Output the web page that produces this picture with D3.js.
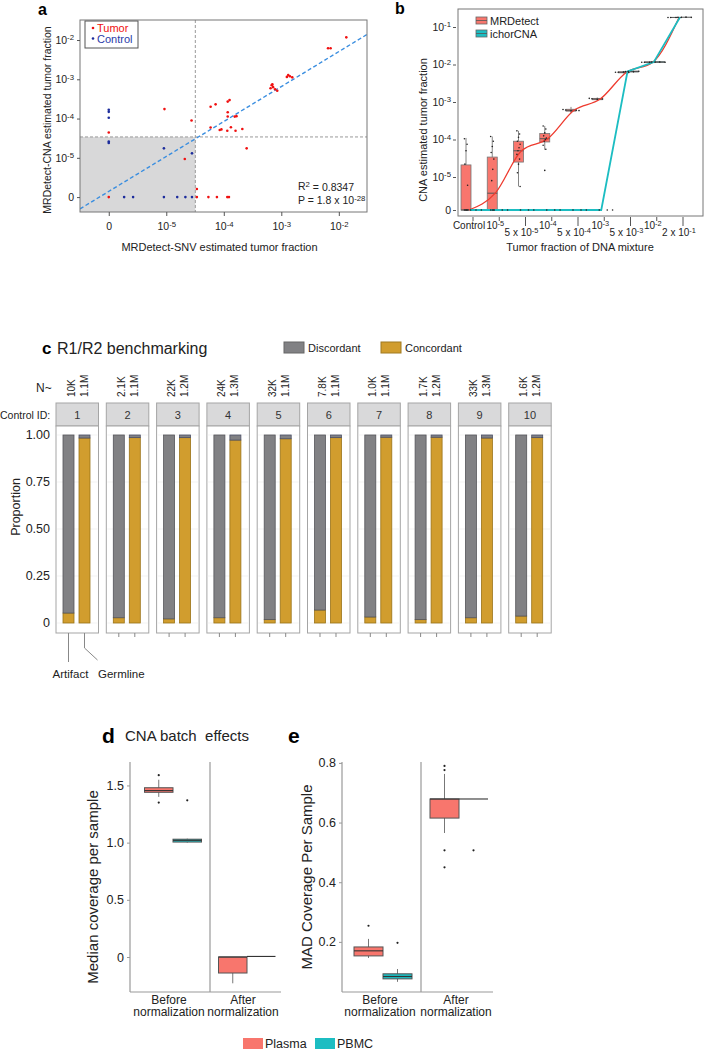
<!DOCTYPE html>
<html><head><meta charset="utf-8">
<script src="https://cdn.jsdelivr.net/npm/d3@7"></script>
<style>body{margin:0;background:#fff}svg{display:block}</style>
</head><body>
<svg id="chart" width="705" height="1050"></svg>
<script>
// ================= DATA =================
// Panel a: MRDetect-SNV vs MRDetect-CNA tumor fraction (0 = not detected)
const tumorSNV = [0.0135,0.0065,0.0072,0.00132,0.00141,0.00155,0.00125,0.00068,0.00072,0.00065,0.00078,0.00085,0.0007,
  9.3e-6,2.75e-5,5.9e-5,7.2e-5,1.17e-4,1.26e-4,1.17e-4,1.17e-4,1.55e-4,1.66e-4,5.9e-5,8.5e-5,9.1e-5,1.15e-4,1.33e-4,1.6e-4,2.1e-4,2.5e-4,2.1e-5,
  0,0,3.4e-5,3.4e-5,5.4e-5,7.6e-5,1.15e-4,1.23e-4];
const tumorCNA = [0.0117,0.0062,0.0062,0.00129,0.0012,0.00112,0.00115,0.00071,0.00063,0.00059,0.00056,0.00051,0.00074,
  1.74e-4,8.9e-5,2.0e-4,2.3e-4,2.7e-4,2.95e-4,1.45e-4,1.13e-4,1.12e-4,1.15e-4,5.9e-5,5.1e-5,5.3e-5,4.9e-5,6.0e-5,4.9e-5,5.4e-5,1.74e-5,9.3e-6,
  4.4e-5,0,1.6e-6,0,0,0,0,0];
const controlSNV = [0,0,0,0,0,9.1e-6,2.8e-5,1.85e-6,2.65e-6,9.1e-6,1.55e-5,2.15e-5,2.8e-5];
const controlCNA = [1.67e-4,1.48e-4,1.05e-4,2.6e-5,2.4e-5,1.74e-5,1.3e-5,0,0,0,0,0,0];
const aThreshSNV = 3.2e-5, aThreshCNA = 3.4e-5;
const aFitSlope = 0.89, aFitIntercept = -0.515;   // log10 space
const aTicks = [0,1e-5,1e-4,1e-3,1e-2];

// Panel b: CNA estimated tumor fraction vs dilution
const bCategories = ["Control","1e-5","5e-5","1e-4","5e-4","1e-3","5e-3","1e-2","2e-1"];
const bTickBase = ["Control","10","5 x 10","10","5 x 10","10","5 x 10","10","2 x 10"];
const bTickExp  = [null,"-5","-5","-4","-4","-3","-3","-2","-1"];
const bTickLower = [false,false,true,false,true,false,true,false,true];
const bYTicks = [0,1e-5,1e-4,1e-3,1e-2,1e-1];
// [lo, q1, median, q3, hi]
const bMrdStats = [
  [0,0,0,2.1e-5,1.1e-4],
  [0,0,3.7e-6,3.4e-5,1.2e-4],
  [5.6e-6,2.5e-5,5e-5,9e-5,1.7e-4],
  [5.3e-5,8.6e-5,1.05e-4,1.45e-4,2.3e-4],
  [5.0e-4,5.7e-4,6.0e-4,6.4e-4,7.4e-4],
  [1.08e-3,1.15e-3,1.2e-3,1.25e-3,1.32e-3],
  [5.8e-3,6.0e-3,6.2e-3,6.4e-3,6.6e-3],
  [1.08e-2,1.12e-2,1.15e-2,1.18e-2,1.22e-2],
  [0.175,0.178,0.18,0.182,0.185]
];
const bIchorStats = [
  [0,0,0,0,0],[0,0,0,0,0],[0,0,0,0,0],[0,0,0,0,0],[0,0,0,0,0],[0,0,0,0,0],
  [6.1e-3,6.3e-3,6.5e-3,6.7e-3,6.9e-3],
  [1.1e-2,1.13e-2,1.16e-2,1.19e-2,1.22e-2],
  [0.178,0.18,0.182,0.184,0.186]
];
const bMrdPoints = [
  [1.05e-4,7.5e-5,5e-5,2.2e-5,6e-6,0,0,0,0],
  [1.2e-4,9e-5,6.5e-5,4.5e-5,3e-5,1.6e-5,8e-6,0,0,0],
  [1.7e-4,1.4e-4,1.15e-4,9e-5,7.5e-5,6e-5,5e-5,4e-5,3e-5,2.2e-5,1.3e-5,5.6e-6],
  [2.3e-4,1.9e-4,1.5e-4,1.25e-4,1.1e-4,1.0e-4,9e-5,7e-5,5.5e-5,1.5e-5],
  [6.3e-4,6.0e-4,5.8e-4,6.1e-4,5.9e-4],
  [1.25e-3,1.2e-3,1.18e-3,1.22e-3],
  [6.2e-3,6.1e-3,6.3e-3,6.2e-3],
  [1.15e-2,1.16e-2,1.14e-2,1.15e-2],
  [0.18,0.181,0.179,0.18]
];
const bIchorPoints = [[0,0,0,0],[0,0,0],[0,0,0],[0,0,0],[0,0,0],[0,0,0],
  [6.5e-3,6.6e-3,6.4e-3,6.5e-3],[1.16e-2,1.15e-2,1.17e-2],[0.182,0.181,0.183]];

// Panel c: R1/R2 benchmarking
const cControlIDs = ["1","2","3","4","5","6","7","8","9","10"];
const cNArtifact = ["10K","2.1K","22K","24K","32K","7.8K","1.0K","1.7K","33K","1.6K"];
const cNGermline = ["1.1M","1.1M","1.2M","1.3M","1.1M","1.1M","1.1M","1.2M","1.3M","1.2M"];
const cArtifactConcordant = [0.053,0.028,0.022,0.028,0.018,0.069,0.032,0.018,0.028,0.037];
const cGermlineDiscordant = [0.016,0.014,0.014,0.027,0.02,0.014,0.012,0.012,0.016,0.014];
const cYTicks = [0,0.25,0.5,0.75,1];
const cYLabels = ["0","0.25","0.50","0.75","1.00"];

// Panel d / e: CNA batch effects
const deGroups = ["Before normalization","After normalization"];
const dPlasmaStats = [[1.40,1.44,1.455,1.48,1.55],[-0.23,-0.14,0,0,0]];
const dPBMCStats   = [[1.0,1.005,1.02,1.03,1.035],[0.005,0.005,0.005,0.005,0.005]];
const dPlasmaOut = [[1.59,1.35],[]];
const dPBMCOut   = [[1.37],[]];
const dYTicks = [0,0.5,1.0,1.5];
const ePlasmaStats = [[0.146,0.153,0.17,0.183,0.21],[0.565,0.615,0.679,0.679,0.763]];
const ePBMCStats   = [[0.066,0.076,0.084,0.093,0.109],[0.679,0.679,0.679,0.679,0.679]];
const ePlasmaOut = [[0.254],[0.79,0.776,0.507,0.45]];
const ePBMCOut   = [[0.197],[0.507]];
const eYTicks = [0.2,0.4,0.6,0.8];

// ================= DRAWING =================
const FONT = '"Liberation Sans", Arial, Helvetica, sans-serif';
const svg = d3.select("#chart").attr("font-family", FONT);
const RED = "#F8766D", TEAL = "#1CBDC2", GOLD = "#D19D2E", GREY = "#818184";

function setSup(sel, base, exp) {
  sel.text(null);
  sel.append("tspan").text(base);
  if (exp !== null && exp !== undefined)
    sel.append("tspan").attr("dy", "-0.45em").attr("font-size", "0.74em").text(exp);
}
const expOf = v => v > 0 ? String(Math.round(Math.log10(v))) : null;
function styleAxis(g, fs) {
  g.attr("font-family", FONT);
  g.select(".domain").remove();
  g.selectAll(".tick line").attr("stroke", "#555");
  g.selectAll(".tick text").attr("font-size", fs).attr("fill", "#222");
}

// ---------- Panel a ----------
(function(){
  const A = {l:80, r:367, t:20, b:212};
  const tA = v => v > 0 ? Math.log10(v) : -6;
  const xA = d3.scaleLinear().domain([-6.5, -1.51]).range([A.l, A.r]);
  const yA = d3.scaleLinear().domain([-6.38, -1.49]).range([A.b, A.t]);
  const g = svg.append("g");
  g.append("defs").append("clipPath").attr("id","clipA").append("rect")
    .attr("x",A.l).attr("y",A.t).attr("width",A.r-A.l).attr("height",A.b-A.t);
  const thx = xA(tA(aThreshSNV)), thy = yA(tA(aThreshCNA));
  g.append("rect").attr("x",A.l).attr("y",thy).attr("width",thx-A.l).attr("height",A.b-thy).attr("fill","#d8d8d9");
  g.append("line").attr("x1",thx).attr("x2",thx).attr("y1",A.t).attr("y2",A.b).attr("stroke","#9a9a9a").attr("stroke-dasharray","3,2");
  g.append("line").attr("x1",A.l).attr("x2",A.r).attr("y1",thy).attr("y2",thy).attr("stroke","#9a9a9a").attr("stroke-dasharray","3,2");
  const xd = xA.domain();
  g.append("line").attr("clip-path","url(#clipA)")
    .attr("x1",xA(xd[0])).attr("y1",yA(aFitIntercept+aFitSlope*xd[0]))
    .attr("x2",xA(xd[1])).attr("y2",yA(aFitIntercept+aFitSlope*xd[1]))
    .attr("stroke","#3a8ee0").attr("stroke-width",1.4).attr("stroke-dasharray","4,2.5");
  g.selectAll(".tp").data(tumorSNV).enter().append("circle")
    .attr("cx",(d)=>xA(tA(d))).attr("cy",(d,i)=>yA(tA(tumorCNA[i]))).attr("r",1.3).attr("fill","#f01010");
  g.selectAll(".cp").data(controlSNV).enter().append("circle")
    .attr("cx",(d)=>xA(tA(d))).attr("cy",(d,i)=>yA(tA(controlCNA[i]))).attr("r",1.3).attr("fill","#1c2c9c");
  g.append("rect").attr("x",A.l).attr("y",A.t).attr("width",A.r-A.l).attr("height",A.b-A.t)
    .attr("fill","none").attr("stroke","#777");
  const gx = g.append("g").attr("transform",`translate(0,${A.b})`)
    .call(d3.axisBottom(xA).tickValues(aTicks.map(tA)).tickSize(4).tickPadding(7));
  styleAxis(gx, 10.5);
  gx.selectAll(".tick text").each(function(d,i){ setSup(d3.select(this), aTicks[i]===0?"0":"10", expOf(aTicks[i])); });
  const gy = g.append("g").attr("transform",`translate(${A.l},0)`)
    .call(d3.axisLeft(yA).tickValues(aTicks.map(tA)).tickSize(3).tickPadding(3));
  styleAxis(gy, 10.5);
  gy.selectAll(".tick text").each(function(d,i){ setSup(d3.select(this), aTicks[i]===0?"0":"10", expOf(aTicks[i])); });
  // legend
  g.append("rect").attr("x",85).attr("y",21).attr("width",53).attr("height",27).attr("fill","#fff").attr("stroke","#555");
  g.append("circle").attr("cx",93).attr("cy",28).attr("r",1.3).attr("fill","#f01010");
  g.append("circle").attr("cx",93).attr("cy",38.5).attr("r",1.3).attr("fill","#1c2c9c");
  g.append("text").attr("x",97).attr("y",32).attr("font-size",11).attr("fill","#f01010").text("Tumor");
  g.append("text").attr("x",97).attr("y",42.5).attr("font-size",11).attr("fill","#2a3aa8").text("Control");
  // stats
  const r2 = g.append("text").attr("x",298).attr("y",190).attr("font-size",10.5).attr("fill","#222");
  r2.append("tspan").text("R");
  r2.append("tspan").attr("dy","-0.45em").attr("font-size","0.74em").text("2");
  r2.append("tspan").attr("dy","0.45em").text(" = 0.8347");
  const pv = g.append("text").attr("x",298).attr("y",204).attr("font-size",10.5).attr("fill","#222");
  setSup(pv, "P = 1.8 x 10", "-28");
  g.append("text").attr("x",(A.l+A.r)/2 - 4).attr("y",251).attr("text-anchor","middle").attr("font-size",11).attr("fill","#222")
    .text("MRDetect-SNV estimated tumor fraction");
  g.append("text").attr("transform",`translate(51,120) rotate(-90)`).attr("text-anchor","middle")
    .attr("font-size",10.5).attr("fill","#222").text("MRDetect-CNA estimated tumor fraction");
  g.append("text").attr("x",38).attr("y",15).attr("font-size",16).attr("font-weight","bold").text("a");
})();

// ---------- Panel b ----------
(function(){
  const B = {l:458, r:703, t:9, b:216};
  const tB = v => v > 0 ? Math.log10(v) : -5.88;
  const xB = d3.scalePoint().domain(bCategories).range([473, 683]);
  const yB = d3.scaleLinear().domain([-6.04, -0.52]).range([B.b, B.t]);
  const g = svg.append("g");
  const bw = 10, offM = -7, offI = 3, offL = -4;
  function box(cx, s, fill) {
    const [lo,q1,md,q3,hi] = s.map(tB);
    g.append("line").attr("x1",cx).attr("x2",cx).attr("y1",yB(hi)).attr("y2",yB(lo)).attr("stroke","#666").attr("stroke-width",0.8);
    if (yB(q1)-yB(q3) > 0.5)
      g.append("rect").attr("x",cx-bw/2).attr("y",yB(q3)).attr("width",bw).attr("height",yB(q1)-yB(q3))
        .attr("fill",fill).attr("stroke","#777").attr("stroke-width",0.8);
    g.append("line").attr("x1",cx-bw/2).attr("x2",cx+bw/2).attr("y1",yB(md)).attr("y2",yB(md)).attr("stroke","#555").attr("stroke-width",1);
  }
  bCategories.forEach((c,i)=>{ box(xB(c)+offM, bMrdStats[i], RED); });
  bCategories.forEach((c,i)=>{ if (bIchorStats[i][4] > 0) box(xB(c)+offI, bIchorStats[i], TEAL); });
  const line = d3.line().x(d=>d[0]).y(d=>yB(tB(d[1])));
  g.append("path").attr("d", line.curve(d3.curveMonotoneX)(bCategories.map((c,i)=>[xB(c)+offL, bMrdStats[i][2]])))
    .attr("fill","none").attr("stroke","#EE3A2E").attr("stroke-width",1.3);
  g.append("path").attr("d", d3.line().x(d=>d[0]).y(d=>yB(tB(d[1])))(bCategories.map((c,i)=>[xB(c)+offL+1, bIchorStats[i][2]])))
    .attr("fill","none").attr("stroke",TEAL).attr("stroke-width",1.8);
  // jittered points
  function pts(arr, off, wideFrom) {
    arr.forEach((vals,i)=>{
      const spread = i >= wideFrom ? 8 : 1.6;
      vals.forEach((v,j)=>{
        const dx = spread * ((((j*5)%7)/3) - 1);
        g.append("circle").attr("cx", xB(bCategories[i])+off+dx).attr("cy", yB(tB(v))).attr("r",0.8).attr("fill","#222");
      });
    });
  }
  pts(bMrdPoints, offM, 4);
  pts(bIchorPoints, offI, 0);
  g.append("rect").attr("x",B.l).attr("y",B.t).attr("width",B.r-B.l).attr("height",B.b-B.t).attr("fill","none").attr("stroke","#777");
  const gy = g.append("g").attr("transform",`translate(${B.l-2},0)`)
    .call(d3.axisLeft(yB).tickValues(bYTicks.map(tB)).tickSize(3).tickPadding(2));
  styleAxis(gy, 10.5);
  gy.selectAll(".tick text").each(function(d,i){ setSup(d3.select(this), bYTicks[i]===0?"0":"10", expOf(bYTicks[i])); });
  bCategories.forEach((c,i)=>{
    const x = xB(c), low = bTickLower[i];
    g.append("line").attr("x1",x).attr("x2",x).attr("y1",B.b+1).attr("y2",B.b+(low? 10:5)).attr("stroke","#555");
    const t = g.append("text").attr("x",x-4).attr("y", low ? 236 : 229).attr("text-anchor","middle").attr("font-size",10).attr("fill","#222");
    setSup(t, bTickBase[i], bTickExp[i]);
  });
  // legend
  [["MRDetect",RED,21],["ichorCNA",TEAL,34]].forEach(([lab,col,y])=>{
    g.append("rect").attr("x",476).attr("y",y-4).attr("width",11).attr("height",7).attr("fill",col).attr("stroke","#666").attr("stroke-width",0.8);
    g.append("line").attr("x1",476).attr("x2",487).attr("y1",y-0.5).attr("y2",y-0.5).attr("stroke","#555").attr("stroke-width",0.8);
    g.append("text").attr("x",490).attr("y",y+3.5).attr("font-size",11).attr("fill","#222").text(lab);
  });
  g.append("text").attr("x",580).attr("y",251).attr("text-anchor","middle").attr("font-size",11).attr("fill","#222").text("Tumor fraction of DNA mixture");
  g.append("text").attr("transform",`translate(427,130) rotate(-90)`).attr("text-anchor","middle")
    .attr("font-size",11).attr("fill","#222").text("CNA estimated tumor fraction");
  g.append("text").attr("x",395).attr("y",14).attr("font-size",16).attr("font-weight","bold").text("b");
})();

// ---------- Panel c ----------
(function(){
  const g = svg.append("g");
  const xP = d3.scaleBand().domain(cControlIDs).range([56, 551.2]).paddingInner(0.155);
  const xI = d3.scaleBand().domain(["Artifact","Germline"]).range([7, 34]).paddingInner(0.3125);
  const yC = d3.scaleLinear().domain([0,1]).range([623,435]);
  const stripT = 403, stripB = 426, bodyB = 633;
  g.append("text").attr("x",42).attr("y",354).attr("font-size",17).attr("font-weight","bold").text("c");
  g.append("text").attr("x",57).attr("y",354).attr("font-size",16).attr("fill","#222").text("R1/R2 benchmarking");
  g.append("rect").attr("x",284).attr("y",342).attr("width",20).attr("height",11).attr("fill",GREY).attr("stroke","#666");
  g.append("text").attr("x",308).attr("y",352).attr("font-size",11).attr("fill","#222").text("Discordant");
  g.append("rect").attr("x",381).attr("y",342).attr("width",20).attr("height",11).attr("fill",GOLD).attr("stroke","#a07a20");
  g.append("text").attr("x",405).attr("y",352).attr("font-size",11).attr("fill","#222").text("Concordant");
  g.append("text").attr("x",36).attr("y",392).attr("font-size",12).attr("fill","#222").text("N~");
  g.append("text").attr("x",0).attr("y",419).attr("font-size",10.5).attr("fill","#222").text("Control ID:");
  cYTicks.forEach((v,i)=>{
    g.append("text").attr("x",50).attr("y",yC(v)+4.3).attr("text-anchor","end").attr("font-size",12.5).attr("fill","#222").text(cYLabels[i]);
  });
  g.append("text").attr("transform",`translate(20,507) rotate(-90)`).attr("text-anchor","middle").attr("font-size",12.5).attr("fill","#222").text("Proportion");
  cControlIDs.forEach((id,i)=>{
    const px = xP(id), w = xP.bandwidth();
    g.append("rect").attr("x",px).attr("y",stripT).attr("width",w).attr("height",stripB-stripT).attr("fill","#d9d9da").attr("stroke","#a5a5a5");
    g.append("text").attr("x",px+w/2).attr("y",419).attr("text-anchor","middle").attr("font-size",11).attr("fill","#333").text(id);
    g.append("rect").attr("x",px).attr("y",stripB).attr("width",w).attr("height",bodyB-stripB).attr("fill","#fff").attr("stroke","#a5a5a5");
    cYTicks.forEach(v=>{ g.append("line").attr("x1",px+1).attr("x2",px+w-1).attr("y1",yC(v)).attr("y2",yC(v)).attr("stroke","#f3f3f3"); });
    const segs = {
      Artifact: [[0,cArtifactConcordant[i],GOLD,"#9a7318"],[cArtifactConcordant[i],1,GREY,"#55555a"]],
      Germline: [[0,1-cGermlineDiscordant[i],GOLD,"#9a7318"],[1-cGermlineDiscordant[i],1,GREY,"#4a4f66"]]
    };
    ["Artifact","Germline"].forEach(k=>{
      const bx = px + xI(k), bwd = xI.bandwidth();
      segs[k].forEach(([a,b,f,s])=>{
        g.append("rect").attr("x",bx).attr("y",yC(b)).attr("width",bwd).attr("height",yC(a)-yC(b)).attr("fill",f).attr("stroke",s).attr("stroke-width",0.8);
      });
      g.append("line").attr("x1",bx+bwd/2).attr("x2",bx+bwd/2).attr("y1",bodyB).attr("y2",bodyB+4).attr("stroke","#888");
    });
    g.append("text").attr("transform",`translate(${px+18.5},397) rotate(-90)`).attr("font-size",10).attr("fill","#222").text(cNArtifact[i]);
    g.append("text").attr("transform",`translate(${px+31.5},397) rotate(-90)`).attr("font-size",10).attr("fill","#222").text(cNGermline[i]);
  });
  const p0 = xP(cControlIDs[0]);
  const ax = p0 + xI("Artifact") + xI.bandwidth()/2, gx = p0 + xI("Germline") + xI.bandwidth()/2;
  g.append("line").attr("x1",ax).attr("x2",ax).attr("y1",bodyB+4).attr("y2",662).attr("stroke","#888");
  g.append("path").attr("d",`M${gx},${bodyB+4}L${gx},648L${gx+13},660`).attr("fill","none").attr("stroke","#888");
  g.append("text").attr("x",ax+2).attr("y",678).attr("text-anchor","middle").attr("font-size",11.5).attr("fill","#222").text("Artifact");
  g.append("text").attr("x",98).attr("y",678).attr("font-size",11.5).attr("fill","#222").text("Germline");
})();

// ---------- Panels d and e ----------
function panelDE(cfg) {
  const g = svg.append("g");
  const y = d3.scaleLinear().domain(cfg.domain).range([992, 762]);
  const x = d3.scalePoint().domain(deGroups).range(cfg.centers);
  const bw = cfg.bw;
  function box(cx, s, fill, outs) {
    const [lo,q1,md,q3,hi] = s;
    g.append("line").attr("x1",cx).attr("x2",cx).attr("y1",y(hi)).attr("y2",y(lo)).attr("stroke","#777");
    if (y(q1)-y(q3) > 0.5)
      g.append("rect").attr("x",cx-bw/2).attr("y",y(q3)).attr("width",bw).attr("height",y(q1)-y(q3)).attr("fill",fill).attr("stroke","#555");
    g.append("line").attr("x1",cx-bw/2).attr("x2",cx+bw/2).attr("y1",y(md)).attr("y2",y(md)).attr("stroke","#333").attr("stroke-width",1.1);
    outs.forEach(v=>g.append("circle").attr("cx",cx).attr("cy",y(v)).attr("r",1.1).attr("fill","#222"));
  }
  deGroups.forEach((grp,i)=>{
    box(x(grp)-bw/2, cfg.plasma[i], RED, cfg.plasmaOut[i]);
    box(x(grp)+bw/2, cfg.pbmc[i], TEAL, cfg.pbmcOut[i]);
  });
  const mid = (x(deGroups[0])+x(deGroups[1]))/2;
  g.append("line").attr("x1",mid).attr("x2",mid).attr("y1",762).attr("y2",992).attr("stroke","#999").attr("stroke-width",1.2);
  g.append("line").attr("x1",cfg.axisX).attr("x2",cfg.axisX).attr("y1",762).attr("y2",992).attr("stroke","#999").attr("stroke-width",1.2);
  g.append("line").attr("x1",cfg.axisX).attr("x2",cfg.xEnd).attr("y1",992).attr("y2",992).attr("stroke","#999").attr("stroke-width",1.2);
  const gy = g.append("g").attr("transform",`translate(${cfg.axisX},0)`)
    .call(d3.axisLeft(y).tickValues(cfg.ticks).tickSize(3).tickPadding(3).tickFormat(v=> v===0 ? "0" : d3.format(".1f")(v)));
  styleAxis(gy, 12.5);
  gy.selectAll(".tick line").attr("stroke","#999");
  deGroups.forEach(grp=>{
    const parts = grp.split(" ");
    g.append("text").attr("x",x(grp)+cfg.labOff).attr("y",1004).attr("text-anchor","middle").attr("font-size",12).attr("fill","#222").text(parts[0]);
    g.append("text").attr("x",x(grp)+cfg.labOff).attr("y",1016).attr("text-anchor","middle").attr("font-size",12).attr("fill","#222").text(parts[1]);
  });
  g.append("text").attr("transform",`translate(${cfg.titleX},${cfg.titleY}) rotate(-90)`).attr("text-anchor","middle")
    .attr("font-size",15).attr("fill","#222").text(cfg.title);
}
panelDE({domain:[-0.306,1.705], centers:[173,247], bw:28.5, axisX:130, xEnd:281, ticks:dYTicks,
  plasma:dPlasmaStats, pbmc:dPBMCStats, plasmaOut:dPlasmaOut, pbmcOut:dPBMCOut,
  title:"Median coverage per sample", titleX:98, titleY:887, labOff:-4});
panelDE({domain:[0.032,0.803], centers:[383,459], bw:29, axisX:342, xEnd:493, ticks:eYTicks,
  plasma:ePlasmaStats, pbmc:ePBMCStats, plasmaOut:ePlasmaOut, pbmcOut:ePBMCOut,
  title:"MAD Coverage Per Sample", titleX:312, titleY:877, labOff:-3});
svg.append("text").attr("x",102).attr("y",743).attr("font-size",21).attr("font-weight","bold").text("d");
svg.append("text").attr("x",125).attr("y",741).attr("font-size",15).attr("fill","#222").text("CNA batch  effects").style("white-space","pre");
svg.append("text").attr("x",288).attr("y",743).attr("font-size",21).attr("font-weight","bold").text("e");
// bottom legend
[["Plasma",RED,243],["PBMC",TEAL,315]].forEach(([lab,col,x])=>{
  svg.append("rect").attr("x",x).attr("y",1038).attr("width",20).attr("height",11).attr("fill",col);
  svg.append("text").attr("x",x+22).attr("y",1047.5).attr("font-size",12.5).attr("fill","#222").text(lab);
});
</script>
</body></html>
